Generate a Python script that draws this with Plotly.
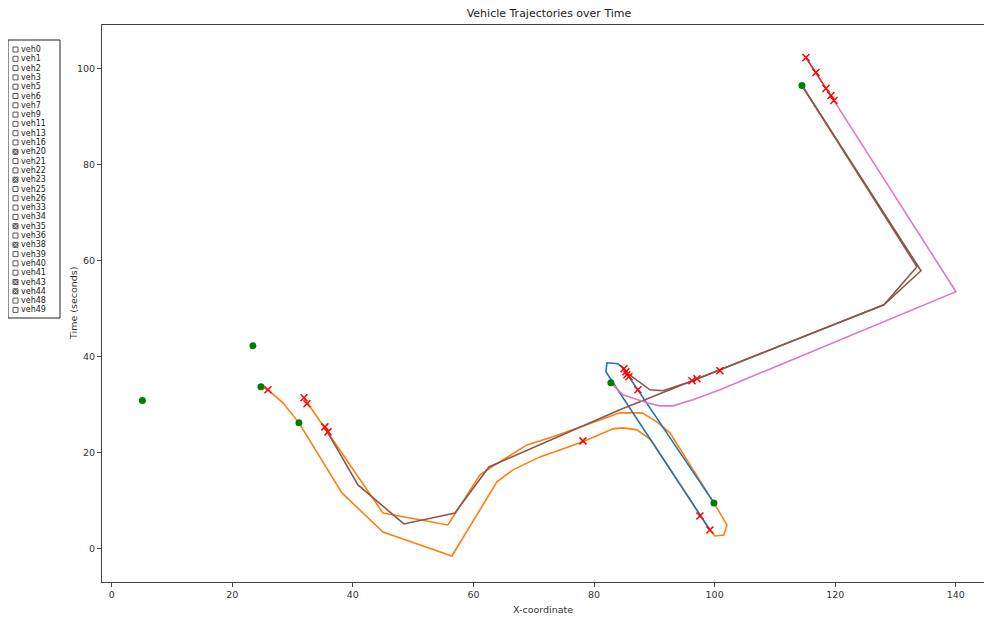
import plotly.graph_objects as go

# ---------------- data ----------------
vehicle_labels = ["veh0", "veh1", "veh2", "veh3", "veh5", "veh6", "veh7", "veh9", "veh11",
                  "veh13", "veh16", "veh20", "veh21", "veh22", "veh23", "veh25", "veh26",
                  "veh33", "veh34", "veh35", "veh36", "veh38", "veh39", "veh40", "veh41",
                  "veh43", "veh44", "veh48", "veh49"]
vehicle_checked = ["veh20", "veh23", "veh35", "veh38", "veh43", "veh44"]

orange_x = [31.89, 35.87, 44.99, 55.77, 61.08, 63.07, 68.87, 73.18, 84.30, 85.46, 87.94, 90.43, 92.59,
            99.88, 102.04, 101.54, 100.05, 99.22, 89.44, 87.11, 84.79, 83.13, 78.16, 71.03, 66.55,
            63.90, 56.43, 44.99, 38.19, 31.06, 28.41, 25.92, 24.76]
orange_y = [31.48, 24.18, 7.50, 5.00, 15.43, 17.09, 21.68, 23.35, 28.35, 28.35, 28.35, 26.47, 24.18,
            9.59, 5.00, 2.92, 2.71, 3.96, 22.72, 24.81, 25.22, 25.02, 22.31, 19.18, 16.47,
            14.00, -1.46, 3.54, 11.67, 26.27, 30.44, 33.15, 33.77]

blue_x = [99.22, 82.97, 81.97, 82.14, 83.96, 84.79, 99.88]
blue_y = [3.96, 35.23, 36.90, 38.77, 38.57, 37.73, 9.59]

brown1_x = [35.87, 40.85, 48.47, 56.93, 62.57, 84.30, 105.85, 128.08, 134.22, 114.48]
brown1_y = [24.18, 13.34, 5.21, 7.50, 17.09, 28.98, 39.82, 50.86, 57.95, 96.52]

brown2_x = [85.46, 89.27, 91.43, 95.91, 128.08, 133.55, 114.48]
brown2_y = [36.69, 33.15, 32.94, 34.81, 50.86, 58.79, 96.52]

pink_x = [119.79, 140.02, 100.88, 96.40, 93.09, 90.93, 88.77, 84.79, 82.80]
pink_y = [93.39, 53.58, 33.15, 31.06, 29.81, 29.81, 30.44, 32.10, 34.60]

red_seg_x = [115.14, 116.80, 118.46, 119.29, 119.79]
red_seg_y = [102.36, 99.23, 95.89, 94.43, 93.39]

start_x = [5.10, 23.43, 24.76, 31.06, 82.80, 99.88, 114.48]
start_y = [30.90, 42.32, 33.77, 26.27, 34.60, 9.59, 96.52]

event_x = [25.92, 31.89, 32.39, 35.37, 35.87, 78.16, 84.96, 85.29, 85.46, 85.79, 87.28,
           96.24, 97.07, 100.88, 97.56, 99.22, 115.14, 116.80, 118.46, 119.29, 119.79]
event_y = [33.15, 31.48, 30.23, 25.43, 24.39, 22.51, 37.52, 36.90, 36.27, 35.86, 33.15,
           35.02, 35.44, 37.11, 6.88, 3.96, 102.36, 99.23, 95.89, 94.43, 93.39]

x_ticks = [0, 20, 40, 60, 80, 100, 120, 140]
y_ticks = [0, 20, 40, 60, 80, 100]

# ---------------- figure ----------------
FONT = "DejaVu Sans, sans-serif"
OFF = 8  # default page body margin
W, H = 992 - OFF, 621 - OFF
ML, MR, MT, MB = 102 - OFF, 0, 25 - OFF, 621 - 582

fig = go.Figure()
lw = 1.6
for xs, ys, col in [(orange_x, orange_y, "#ff7f0e"),
                    (blue_x, blue_y, "#1f77b4"),
                    (brown1_x, brown1_y, "#8c564b"),
                    (brown2_x, brown2_y, "#8c564b"),
                    (pink_x, pink_y, "#e377c2"),
                    (red_seg_x, red_seg_y, "#d62728")]:
    fig.add_trace(go.Scatter(x=xs, y=ys, mode="lines", line=dict(color=col, width=lw),
                             hoverinfo="skip", showlegend=False))

fig.add_trace(go.Scatter(x=start_x, y=start_y, mode="markers",
                         marker=dict(color="green", size=7, symbol="circle"),
                         hoverinfo="skip", showlegend=False))
fig.add_trace(go.Scatter(x=event_x, y=event_y, mode="markers",
                         marker=dict(color="red", size=7, symbol="x-thin",
                                     line=dict(color="red", width=1.5)),
                         hoverinfo="skip", showlegend=False))

axis_common = dict(showgrid=False, zeroline=False, showline=True, linecolor="#444", linewidth=1,
                   ticks="outside", ticklen=4, tickcolor="#444", automargin=False,
                   tickfont=dict(family=FONT, size=9.5, color="#333"))

fig.update_xaxes(range=[-1.6, 146.0], tickvals=x_ticks, mirror=True, **axis_common)
fig.update_yaxes(range=[-6.88, 109.13], tickvals=y_ticks, mirror=False, **axis_common)

pw = W - ML - MR
ph = H - MT - MB


def px_x(p):
    # screen pixel -> paper fraction
    return (p - OFF - ML) / pw


def px_y(p):
    return (H - MB - (p - OFF)) / ph


shapes = []
annotations = []
# axis titles
annotations.append(dict(xref="paper", yref="paper", x=px_x(543), y=px_y(609), xanchor="center",
                        yanchor="middle", text="X-coordinate", showarrow=False,
                        font=dict(family=FONT, size=9.5, color="#333")))
annotations.append(dict(xref="paper", yref="paper", x=px_x(73), y=px_y(303), xanchor="center",
                        yanchor="middle", text="Time (seconds)", showarrow=False, textangle=-90,
                        font=dict(family=FONT, size=9.5, color="#333")))
# legend box
shapes.append(dict(type="rect", xref="paper", yref="paper",
                   x0=px_x(8), x1=px_x(60), y0=px_y(318), y1=px_y(40),
                   line=dict(color="#222", width=1), fillcolor="white", layer="above"))
row0, step = 49.5, 9.3
for i, lab in enumerate(vehicle_labels):
    yc = row0 + i * step
    checked = lab in vehicle_checked
    shapes.append(dict(type="rect", xref="paper", yref="paper",
                       x0=px_x(13), x1=px_x(18), y0=px_y(yc + 2.5), y1=px_y(yc - 2.5),
                       line=dict(color="#555", width=1),
                       fillcolor="#666" if checked else "white", layer="above"))
    if checked:
        shapes.append(dict(type="line", xref="paper", yref="paper",
                           x0=px_x(13.5), x1=px_x(17.5), y0=px_y(yc + 2), y1=px_y(yc - 2),
                           line=dict(color="white", width=0.8), layer="above"))
        shapes.append(dict(type="line", xref="paper", yref="paper",
                           x0=px_x(13.5), x1=px_x(17.5), y0=px_y(yc - 2), y1=px_y(yc + 2),
                           line=dict(color="white", width=0.8), layer="above"))
    annotations.append(dict(xref="paper", yref="paper", x=px_x(19.5), y=px_y(yc),
                            xanchor="left", yanchor="middle", text=lab, showarrow=False,
                            borderpad=0,
                            font=dict(family=FONT, size=8, color="#222")))

fig.update_layout(
    width=W, height=H,
    margin=dict(l=ML, r=MR, t=MT, b=MB),
    paper_bgcolor="white", plot_bgcolor="white",
    title=dict(text="Vehicle Trajectories over Time", x=(549 - OFF) / W, xanchor="center",
               y=1, yanchor="top", pad=dict(t=1, b=0, l=0, r=0),
               font=dict(family=FONT, size=11, color="#222")),
    shapes=shapes, annotations=annotations, showlegend=False,
)

fig.write_html("out.html", config={"displayModeBar": False})
